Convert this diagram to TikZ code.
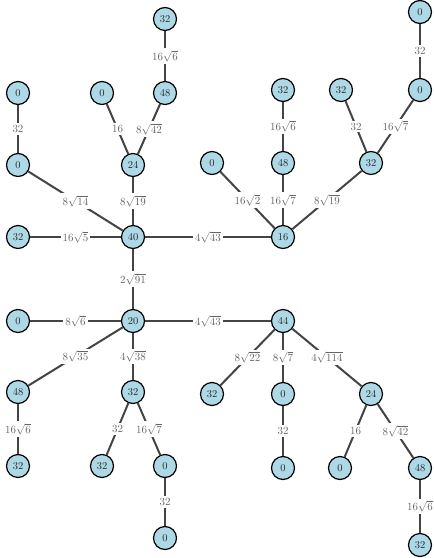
\documentclass[tikz,border=0pt]{standalone}
\usepackage{amsmath}
\begin{document}
\begin{tikzpicture}[x=1pt,y=-1pt,
  vtx/.style={circle,draw=black,line width=1.2pt,fill=lightblue,minimum size=23pt,inner sep=0pt,font=\fontsize{10.5}{12}\selectfont,text=black!85},
  edge/.style={draw=edgegray,line width=2pt},
  lab/.style={fill=white,inner sep=2pt,text=labgray,font=\fontsize{10.5}{12}\selectfont}]
\definecolor{lightblue}{HTML}{ADD8E6}
\definecolor{edgegray}{HTML}{444444}
\definecolor{labgray}{HTML}{666666}
\useasboundingbox (0,0) rectangle (434,558);
\node[vtx] (n1) at (165,19) {32};
\node[vtx] (n2) at (165,93) {48};
\node[vtx] (n3) at (18,93) {0};
\node[vtx] (n4) at (102,93) {0};
\node[vtx] (n5) at (18,165) {0};
\node[vtx] (n6) at (133,165) {24};
\node[vtx] (n7) at (133,237) {40};
\node[vtx] (n8) at (18,237) {32};
\node[vtx] (n9) at (420,12) {0};
\node[vtx] (n10) at (420,90) {0};
\node[vtx] (n11) at (283,90) {32};
\node[vtx] (n12) at (341,90) {32};
\node[vtx] (n13) at (212,163) {0};
\node[vtx] (n14) at (283,163) {48};
\node[vtx] (n15) at (371,163) {32};
\node[vtx] (n16) at (283,237) {16};
\node[vtx] (n17) at (133,321) {20};
\node[vtx] (n18) at (18,321) {0};
\node[vtx] (n19) at (283,321) {44};
\node[vtx] (n20) at (18,392) {48};
\node[vtx] (n21) at (133,392) {32};
\node[vtx] (n22) at (212,394) {32};
\node[vtx] (n23) at (283,394) {0};
\node[vtx] (n24) at (371,394) {24};
\node[vtx] (n25) at (18,466) {32};
\node[vtx] (n26) at (102,466) {32};
\node[vtx] (n27) at (165,466) {0};
\node[vtx] (n28) at (283,468) {0};
\node[vtx] (n29) at (340,468) {0};
\node[vtx] (n30) at (420,468) {48};
\node[vtx] (n31) at (165,538) {0};
\node[vtx] (n32) at (420,545) {32};
\path[edge] (n1) -- node[lab]{$16\sqrt{6}$} (n2);
\path[edge] (n3) -- node[lab]{$32$} (n5);
\path[edge] (n4) -- node[lab]{$16$} (n6);
\path[edge] (n2) -- node[lab]{$8\sqrt{42}$} (n6);
\path[edge] (n5) -- node[lab]{$8\sqrt{14}$} (n7);
\path[edge] (n6) -- node[lab]{$8\sqrt{19}$} (n7);
\path[edge] (n8) -- node[lab]{$16\sqrt{5}$} (n7);
\path[edge] (n7) -- node[lab]{$4\sqrt{43}$} (n16);
\path[edge] (n7) -- node[lab]{$2\sqrt{91}$} (n17);
\path[edge] (n9) -- node[lab]{$32$} (n10);
\path[edge] (n11) -- node[lab]{$16\sqrt{6}$} (n14);
\path[edge] (n12) -- node[lab]{$32$} (n15);
\path[edge] (n10) -- node[lab]{$16\sqrt{7}$} (n15);
\path[edge] (n13) -- node[lab]{$16\sqrt{2}$} (n16);
\path[edge] (n14) -- node[lab]{$16\sqrt{7}$} (n16);
\path[edge] (n15) -- node[lab]{$8\sqrt{19}$} (n16);
\path[edge] (n18) -- node[lab]{$8\sqrt{6}$} (n17);
\path[edge] (n17) -- node[lab]{$4\sqrt{43}$} (n19);
\path[edge] (n17) -- node[lab]{$8\sqrt{35}$} (n20);
\path[edge] (n17) -- node[lab]{$4\sqrt{38}$} (n21);
\path[edge] (n20) -- node[lab]{$16\sqrt{6}$} (n25);
\path[edge] (n21) -- node[lab]{$32$} (n26);
\path[edge] (n21) -- node[lab]{$16\sqrt{7}$} (n27);
\path[edge] (n27) -- node[lab]{$32$} (n31);
\path[edge] (n19) -- node[lab]{$8\sqrt{22}$} (n22);
\path[edge] (n19) -- node[lab]{$8\sqrt{7}$} (n23);
\path[edge] (n19) -- node[lab]{$4\sqrt{114}$} (n24);
\path[edge] (n23) -- node[lab]{$32$} (n28);
\path[edge] (n24) -- node[lab]{$16$} (n29);
\path[edge] (n24) -- node[lab]{$8\sqrt{42}$} (n30);
\path[edge] (n30) -- node[lab]{$16\sqrt{6}$} (n32);
\end{tikzpicture}
\end{document}
